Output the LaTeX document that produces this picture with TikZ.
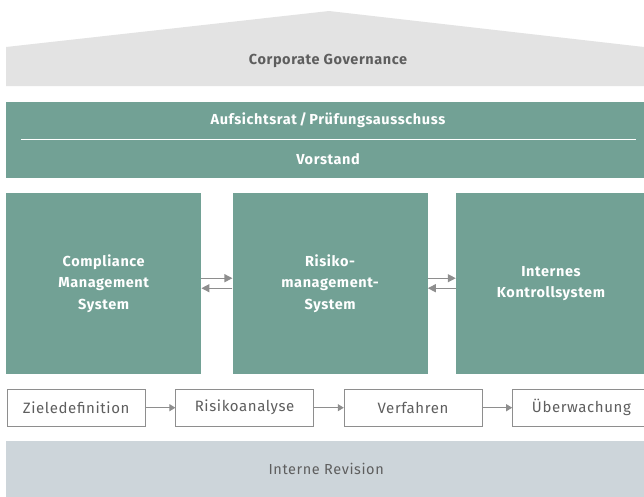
\documentclass[tikz,border=0pt]{standalone}
\usepackage{fontspec}
\setmainfont{Fira Sans}[LetterSpace=4]
\usepackage{xcolor}
\usetikzlibrary{arrows.meta, positioning}
\definecolor{pillargreen}{HTML}{72A195}
\definecolor{roofgray}{HTML}{E3E3E3}
\definecolor{revgray}{HTML}{CDD5DA}
\definecolor{txtgray}{HTML}{5E5E5E}
\definecolor{linegray}{HTML}{8E8E8E}

\begin{document}
\begin{tikzpicture}[x=1pt, y=-1pt,
    pillar/.style={rectangle, fill=pillargreen, text=white, minimum width=195pt, minimum height=181pt, inner sep=0pt, align=center, font=\bfseries\fontsize{14.5}{21.5}\selectfont},
    boardtext/.style={text=white, inner sep=0pt, font=\bfseries\fontsize{14.5}{16}\selectfont},
    procbox/.style={rectangle, draw=linegray, fill=white, text=txtgray, minimum width=138pt, minimum height=37pt, inner sep=0pt, font=\fontsize{15}{17}\selectfont},
    arr/.style={-{Triangle[length=8pt, width=8pt]}, draw=linegray, fill=linegray, line width=1.3pt},
    parr/.style={-{Triangle[length=6pt, width=7pt]}, draw=linegray, fill=linegray, line width=1pt},
    node distance=30pt
]
\useasboundingbox (0,0) rectangle (644,496);

% roof
\fill[roofgray] (6,86) -- (6,47) -- (329,11) -- (644,47) -- (644,86) -- cycle;
\node[text=txtgray, font=\bfseries\fontsize{14.5}{16}\selectfont] (cg) at (328,61) {Corporate Governance};

% board
\node[rectangle, fill=pillargreen, minimum width=638pt, minimum height=76pt, inner sep=0pt, anchor=north west] (board) at (6,102) {};
\node[boardtext] (aufsicht) at (328,120) {Aufsichtsrat\,/\,Prüfungsausschuss};
\node[boardtext] (vorstand) at (328,159) {Vorstand};
\draw[white, line width=1pt] (21,139) -- (636,139);

% pillars
\node[pillar, anchor=north west] (cms) at (6,193) {Compliance\\Management\\System};
\node[pillar, right=31pt of cms] (rms) {Risiko-\\management-\\System};
\node[pillar, minimum width=190pt, right=28pt of rms] (iks) {Internes\\Kontrollsystem};

\draw[arr] ([yshift=5.5pt]cms.east) -- ([yshift=5.5pt]rms.west);
\draw[arr] ([yshift=-4.5pt]rms.west) -- ([yshift=-4.5pt]cms.east);
\draw[arr] ([yshift=5.5pt]rms.east) -- ([yshift=5.5pt]iks.west);
\draw[arr] ([yshift=-4.5pt]iks.west) -- ([yshift=-4.5pt]rms.east);

% process
\node[procbox, anchor=north west] (ziel) at (7,389) {Zieledefinition};
\node[procbox, right=of ziel] (risiko) {Risikoanalyse};
\node[procbox, right=of risiko] (verfahren) {Verfahren};
\node[procbox, right=of verfahren] (ueberw) {Überwachung};

\draw[parr] (ziel) -- (risiko);
\draw[parr] (risiko) -- (verfahren);
\draw[parr] (verfahren) -- (ueberw);

% revision
\node[rectangle, fill=revgray, text=txtgray, minimum width=640pt, minimum height=56pt, inner sep=0pt, anchor=north west, font=\fontsize{14.5}{16}\selectfont] (revision) at (6,441) {Interne Revision};

\end{tikzpicture}
\end{document}
